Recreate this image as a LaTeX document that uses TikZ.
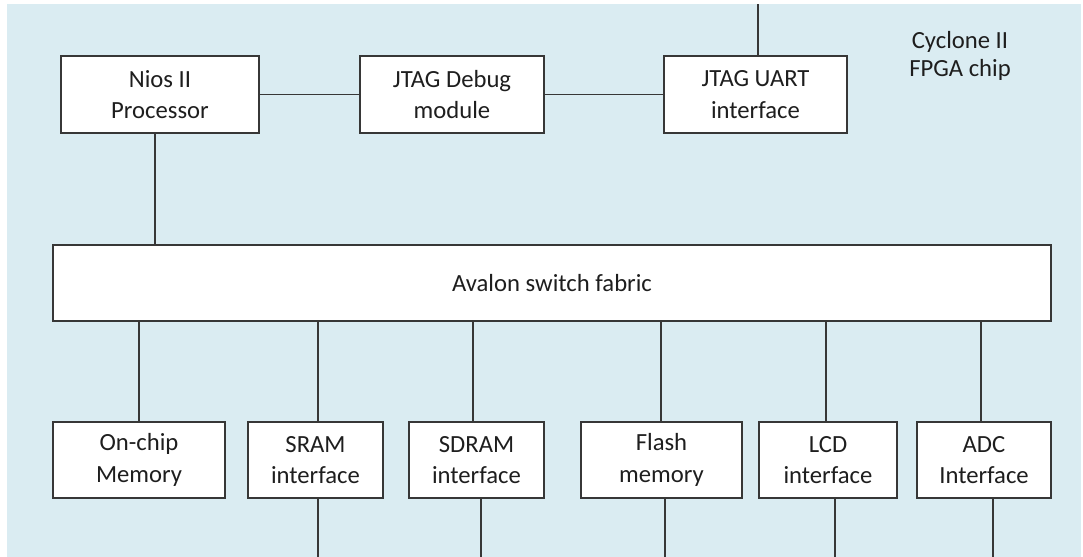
\documentclass[tikz,border=0pt]{standalone}
\usepackage{fontspec}
\setmainfont{Carlito}
\definecolor{bgblue}{RGB}{218,236,242}
\definecolor{linegray}{RGB}{55,55,55}
\definecolor{txt}{RGB}{30,30,30}
\begin{document}
\begin{tikzpicture}[x=0.75pt,y=-0.75pt,
  box/.style={draw=linegray,line width=1.4pt,fill=white,inner sep=0pt,align=center,
    text=txt,font=\fontsize{18.5}{23.5}\selectfont},
  conn/.style={draw=linegray,line width=1.3pt}]
\useasboundingbox (0,0) rectangle (1083,557);
\fill[bgblue] (7,4) rectangle (1081,557);
% top row
\node[box,minimum width=148.5pt,minimum height=57.75pt] (nios) at (160,94.5) {Nios II\\Processor};
\node[box,minimum width=138pt,minimum height=57.75pt] (dbg) at (452,94.5) {JTAG Debug\\module};
\node[box,minimum width=137.25pt,minimum height=57.75pt] (uart) at (755.5,94.5) {JTAG UART\\interface};
\node[text=txt,align=center,font=\fontsize{18.5}{21.5}\selectfont] (chip) at (960,56) {Cyclone II\\FPGA chip};
% fabric
\node[box,minimum width=748.5pt,minimum height=57pt] (aval) at (552,283) {Avalon switch fabric};
% bottom row
\node[box,minimum width=129pt,minimum height=57pt] (onchip) at (139,460) {On-chip\\Memory};
\node[box,minimum width=101.25pt,minimum height=57pt] (sram) at (315.5,460) {SRAM\\interface};
\node[box,minimum width=101.25pt,minimum height=57pt] (sdram) at (476.5,460) {SDRAM\\interface};
\node[box,minimum width=120.75pt,minimum height=57pt] (flash) at (661.5,460) {Flash\\memory};
\node[box,minimum width=103.5pt,minimum height=57pt] (lcd) at (828,460) {LCD\\interface};
\node[box,minimum width=100.5pt,minimum height=57pt] (adc) at (984,460) {ADC\\Interface};
% free ends
\coordinate (top) at (758,4);
\coordinate (bot) at (0,557);
% connectors
\draw[conn] (nios.east) -- (dbg.west);
\draw[conn] (dbg.east) -- (uart.west);
\draw[conn] ([xshift=1.9pt]uart.north) -- ([xshift=1.9pt]uart.north |- top);
\draw[conn] ([xshift=-3.75pt]nios.south) -- ([xshift=-3.75pt]nios.south |- aval.north);
\draw[conn] (onchip.north |- aval.south) -- (onchip.north);
\draw[conn] ([xshift=1.9pt]sram.north |- aval.south) -- ([xshift=1.9pt]sram.north);
\draw[conn] ([xshift=-2.6pt]sdram.north |- aval.south) -- ([xshift=-2.6pt]sdram.north);
\draw[conn] ([xshift=-0.4pt]flash.north |- aval.south) -- ([xshift=-0.4pt]flash.north);
\draw[conn] ([xshift=-1.5pt]lcd.north |- aval.south) -- ([xshift=-1.5pt]lcd.north);
\draw[conn] ([xshift=-2.25pt]adc.north |- aval.south) -- ([xshift=-2.25pt]adc.north);
\draw[conn] ([xshift=1.9pt]sram.south) -- ([xshift=1.9pt]sram.south |- bot);
\draw[conn] ([xshift=3.4pt]sdram.south) -- ([xshift=3.4pt]sdram.south |- bot);
\draw[conn] ([xshift=2.6pt]flash.south) -- ([xshift=2.6pt]flash.south |- bot);
\draw[conn] ([xshift=5.25pt]lcd.south) -- ([xshift=5.25pt]lcd.south |- bot);
\draw[conn] ([xshift=6.75pt]adc.south) -- ([xshift=6.75pt]adc.south |- bot);
\end{tikzpicture}
\end{document}
